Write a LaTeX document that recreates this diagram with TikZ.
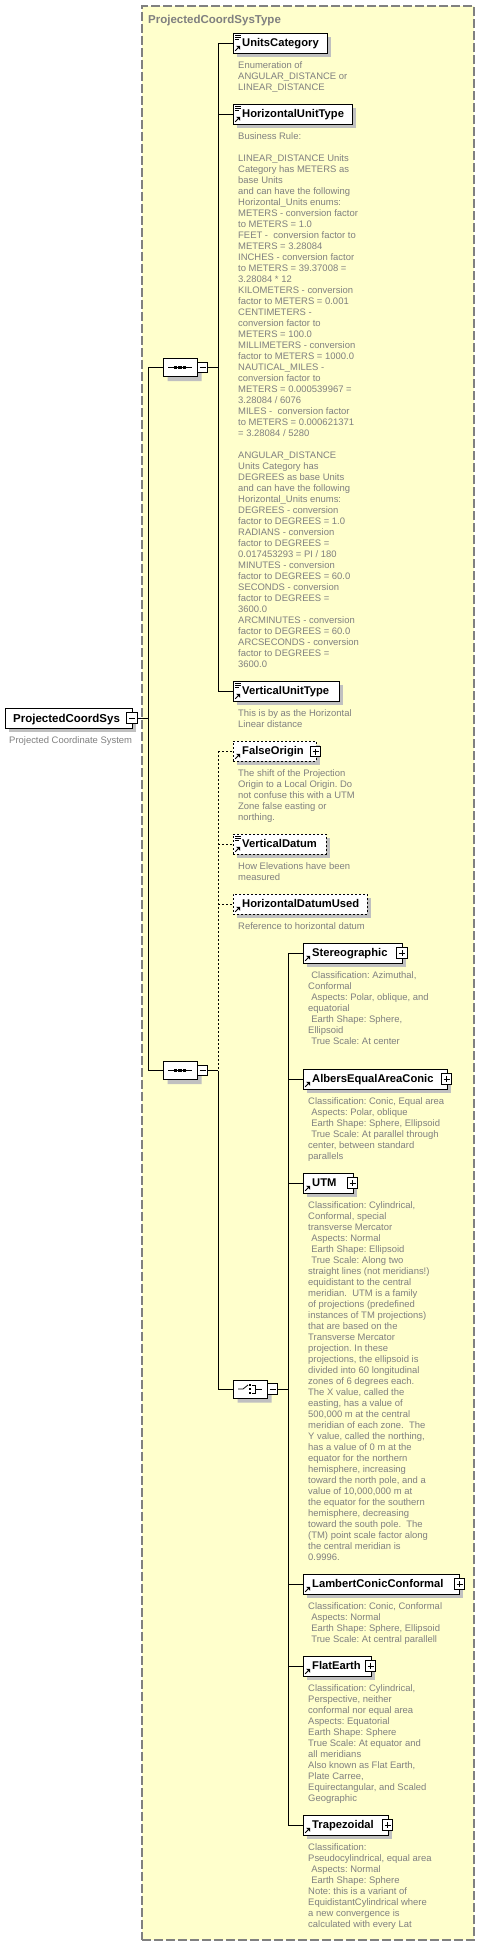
\documentclass[tikz,border=0pt]{standalone}
\usepackage{fontspec}
\setmainfont{Liberation Sans}
\usetikzlibrary{calc,shapes.misc,shadows}
\definecolor{bgyellow}{RGB}{255,255,204}
\definecolor{txtgray}{RGB}{128,128,128}
\definecolor{shgray}{RGB}{192,192,192}
\definecolor{bordergray}{RGB}{128,128,128}
\newcommand\ind{\hspace*{3.2pt}}
\newcommand\firststrut{\rule{0pt}{9pt}}
\frenchspacing
\tikzset{
  shad/.style={drop shadow={shadow xshift=4pt, shadow yshift=-4pt, fill=shgray, opacity=1, draw=none}},
  elbox/.style={rectangle, draw=black, fill=white, line width=1pt, inner sep=0pt, outer sep=0pt, minimum height=20pt, shad},
  optbox/.style={dash pattern=on 2pt off 2pt},
  eltitle/.style={inner sep=0pt, font=\fontsize{11.2}{13}\selectfont\bfseries, text=black},
  desc/.style={inner sep=0pt, align=left, font=\fontsize{9.45}{11}\selectfont, text=txtgray},
  pmbox/.style={rectangle, draw=black, fill=white, line width=0.8pt, inner sep=0pt, outer sep=0pt, minimum size=10.5pt},
  comp/.style={chamfered rectangle, chamfered rectangle xsep=3pt, chamfered rectangle ysep=3pt, draw=black, fill=white, line width=1pt, inner sep=0pt, outer sep=0pt, minimum width=34pt, minimum height=18pt, drop shadow={shadow xshift=4.5pt, shadow yshift=-4.5pt, fill=shgray, opacity=1, draw=none}},
  conn/.style={line width=1pt, black},
  optconn/.style={conn, dash pattern=on 2pt off 2pt},
  typebox/.style={rectangle, draw=bordergray, fill=bgyellow, line width=1.2pt, dash pattern=on 9pt off 3pt, inner sep=0pt, outer sep=0pt},
  icon/.style={line width=0.8pt, black}
}
% element: name, x, y top, width, extra style, title
\newcommand\elem[6]{%
  \node[elbox,#5,minimum width=#4pt,anchor=north west] (#1) at (#2,#3) {};
  \node[eltitle,anchor=base west] (#1-t) at ($(#1.west)+(9,3.8)$) {#6};
  \draw[icon] ($(#1.south west)+(2.2,-2.2)$) -- ($(#1.south west)+(5.5,-5.5)$);
  \fill ($(#1.south west)+(3.2,-7.2)$) -- ($(#1.south west)+(7.2,-7.2)$) -- ($(#1.south west)+(7.2,-3.2)$) -- cycle;
}
\newcommand\typeicon[1]{%
  \draw[icon,line width=0.7pt] ($(#1.north west)+(2,2.5)$) -- ++(6,0);
  \draw[icon,line width=0.7pt] ($(#1.north west)+(2,4.6)$) -- ++(6,0);
  \draw[icon,line width=0.7pt] ($(#1.north west)+(2,6.7)$) -- ++(4,0);
}
\newcommand\plusbox[3]{% name, x, y
  \node[pmbox] (#1) at (#2,#3) {};
  \draw[icon] ($(#1.center)+(-3,0)$) -- ($(#1.center)+(3,0)$);
  \draw[icon] ($(#1.center)+(0,-3)$) -- ($(#1.center)+(0,3)$);
}
\newcommand\minusbox[3]{%
  \node[pmbox] (#1) at (#2,#3) {};
  \draw[icon] ($(#1.center)+(-3,0)$) -- ($(#1.center)+(3,0)$);
}
\newcommand\desc[2]{% name, text
  \node[desc,anchor=north west] (#1-d) at ($(#1.south west)+(5,6)$) {\firststrut#2};
}
\begin{document}
\begin{tikzpicture}[x=1pt,y=-1pt]
\useasboundingbox (0,0) rectangle (480,1946);
\fill[white] (0,0) rectangle (480,1946);

% type box
\node[typebox, minimum width=332pt, minimum height=1934pt, anchor=north west] (type) at (142,6) {};
\node[inner sep=0pt, anchor=base west, font=\fontsize{11.5}{13}\selectfont\bfseries, text=txtgray] (typetitle) at (148,23.5) {ProjectedCoordSysType};

% bus coordinates
\coordinate (bus0) at (148,0);
\coordinate (bus1) at (218,0);
\coordinate (bus2) at (288,0);

% root element
\node[elbox,minimum width=127pt,anchor=north west] (pcs) at (5,708) {};
\node[eltitle,anchor=base west,font=\fontsize{11.5}{13}\selectfont\bfseries] (pcs-t) at ($(pcs.west)+(8,4)$) {ProjectedCoordSys};
\minusbox{pcs-m}{132}{718}
\node[desc,anchor=base west] (pcs-d) at (9,743.5) {Projected Coordinate System};

% compositors
\node[comp] (seq1) at (180,367.5) {};
\minusbox{seq1-m}{202.5}{367.5}
\draw[icon] ($(seq1.center)+(-12,0)$) -- ($(seq1.center)+(12,0)$);
\foreach \dx in {-4.5,0,4.5} \fill ($(seq1.center)+(\dx,0)+(-1.6,-1.6)$) rectangle ++(3.2,3.2);

\node[comp] (seq2) at (180,1070.5) {};
\minusbox{seq2-m}{202.5}{1070.5}
\draw[icon] ($(seq2.center)+(-12,0)$) -- ($(seq2.center)+(12,0)$);
\foreach \dx in {-4.5,0,4.5} \fill ($(seq2.center)+(\dx,0)+(-1.6,-1.6)$) rectangle ++(3.2,3.2);

\node[comp] (choice) at (250,1389) {};
\minusbox{choice-m}{272.5}{1389}
\draw[icon] ($(choice.center)+(-12,0)$) -- ($(choice.center)+(-7,0)$) -- ($(choice.center)+(-2,-4)$);
\foreach \dy in {-4,0,4} \fill ($(choice.center)+(0,\dy)+(-1.3,-1.3)$) rectangle ++(2.6,2.6);
\draw[icon] ($(choice.center)+(2,-4)$) -- ($(choice.center)+(5,-4)$) -- ($(choice.center)+(5,4)$) -- ($(choice.center)+(2,4)$);
\draw[icon] ($(choice.center)+(5,0)$) -- ($(choice.center)+(12,0)$);

% sequence 1 children
\elem{uc}{233}{33}{94}{}{UnitsCategory}
\typeicon{uc}
\desc{uc}{Enumeration of\\ANGULAR\_DISTANCE or\\LINEAR\_DISTANCE}

\elem{hut}{233}{104}{119}{}{HorizontalUnitType}
\typeicon{hut}
\desc{hut}{Business Rule:\\[11pt]LINEAR\_DISTANCE Units\\Category has METERS as\\base Units\\and can have the following\\Horizontal\_Units enums:\\METERS - conversion factor\\to METERS = 1.0\\FEET - \ conversion factor to\\METERS = 3.28084\\INCHES - conversion factor\\to METERS = 39.37008 =\\3.28084 * 12\\KILOMETERS - conversion\\factor to METERS = 0.001\\CENTIMETERS -\\conversion factor to\\METERS = 100.0\\MILLIMETERS - conversion\\factor to METERS = 1000.0\\NAUTICAL\_MILES -\\conversion factor to\\METERS = 0.000539967 =\\3.28084 / 6076\\MILES - \ conversion factor\\to METERS = 0.000621371\\= 3.28084 / 5280\\[11pt]ANGULAR\_DISTANCE\\Units Category has\\DEGREES as base Units\\and can have the following\\Horizontal\_Units enums:\\DEGREES - conversion\\factor to DEGREES = 1.0\\RADIANS - conversion\\factor to DEGREES =\\0.017453293 = PI / 180\\MINUTES - conversion\\factor to DEGREES = 60.0\\SECONDS - conversion\\factor to DEGREES =\\3600.0\\ARCMINUTES - conversion\\factor to DEGREES = 60.0\\ARCSECONDS - conversion\\factor to DEGREES =\\3600.0}

\elem{vut}{233}{681}{106}{}{VerticalUnitType}
\typeicon{vut}
\desc{vut}{This is by as the Horizontal\\Linear distance}

% sequence 2 children
\elem{fo}{233}{741}{83}{optbox}{FalseOrigin}
\plusbox{fo-p}{315.5}{751.5}
\desc{fo}{The shift of the Projection\\Origin to a Local Origin. Do\\not confuse this with a UTM\\Zone false easting or\\northing.}

\elem{vd}{233}{834}{93}{optbox}{VerticalDatum}
\typeicon{vd}
\desc{vd}{How Elevations have been\\measured}

\elem{hdu}{233}{894}{134}{optbox}{HorizontalDatumUsed}
\desc{hdu}{Reference to horizontal datum}

% choice children
\elem{ster}{303}{943}{99}{}{Stereographic}
\plusbox{ster-p}{402}{953}
\desc{ster}{\ind Classification: Azimuthal,\\Conformal\\\ind Aspects: Polar, oblique, and\\equatorial\\\ind Earth Shape: Sphere,\\Ellipsoid\\\ind True Scale: At center}

\elem{alb}{303}{1069}{144}{}{AlbersEqualAreaConic}
\plusbox{alb-p}{446.5}{1079}
\desc{alb}{Classification: Conic, Equal area\\\ind Aspects: Polar, oblique\\\ind Earth Shape: Sphere, Ellipsoid\\\ind True Scale: At parallel through\\center, between standard\\parallels}

\elem{utm}{303}{1173}{50}{}{UTM}
\plusbox{utm-p}{352.5}{1183}
\desc{utm}{Classification: Cylindrical,\\Conformal, special\\transverse Mercator\\\ind Aspects: Normal\\\ind Earth Shape: Ellipsoid\\\ind True Scale: Along two\\straight lines (not meridians!)\\equidistant to the central\\meridian.\ \ UTM is a family\\of projections (predefined\\instances of TM projections)\\that are based on the\\Transverse Mercator\\projection. In these\\projections, the ellipsoid is\\divided into 60 longitudinal\\zones of 6 degrees each.\\The X value, called the\\easting, has a value of\\500,000 m at the central\\meridian of each zone.\ \ The\\Y value, called the northing,\\has a value of 0 m at the\\equator for the northern\\hemisphere, increasing\\toward the north pole, and a\\value of 10,000,000 m at\\the equator for the southern\\hemisphere, decreasing\\toward the south pole.\ \ The\\(TM) point scale factor along\\the central meridian is\\0.9996.}

\elem{lcc}{303}{1574}{156}{}{LambertConicConformal}
\plusbox{lcc-p}{459.5}{1584}
\desc{lcc}{Classification: Conic, Conformal\\\ind Aspects: Normal\\\ind Earth Shape: Sphere, Ellipsoid\\\ind True Scale: At central parallell}

\elem{flat}{303}{1656}{68}{}{FlatEarth}
\plusbox{flat-p}{370.5}{1666}
\desc{flat}{Classification: Cylindrical,\\Perspective, neither\\conformal nor equal area\\Aspects: Equatorial\\Earth Shape: Sphere\\True Scale: At equator and\\all meridians\\Also known as Flat Earth,\\Plate Carree,\\Equirectangular, and Scaled\\Geographic}

\elem{trap}{303}{1815}{85}{}{Trapezoidal}
\plusbox{trap-p}{387.5}{1825}
\desc{trap}{Classification:\\Pseudocylindrical, equal area\\\ind Aspects: Normal\\\ind Earth Shape: Sphere\\Note: this is a variant of\\EquidistantCylindrical where\\a new convergence is\\calculated with every Lat}

% connectors: root
\draw[conn] (pcs-m.east) -- (pcs-m.east -| bus0);
\draw[conn] (seq1.west -| bus0) -- (seq2.west -| bus0);
\draw[conn] (seq1.west -| bus0) -- (seq1.west);
\draw[conn] (seq2.west -| bus0) -- (seq2.west);
% sequence 1
\draw[conn] (seq1-m.east) -- (seq1-m.east -| bus1);
\draw[conn] (uc.west -| bus1) -- (vut.west -| bus1);
\draw[conn] (uc.west -| bus1) -- (uc.west);
\draw[conn] (hut.west -| bus1) -- (hut.west);
\draw[conn] (vut.west -| bus1) -- (vut.west);
% sequence 2
\draw[conn] (seq2-m.east) -- (seq2-m.east -| bus1);
\draw[optconn] (fo.west -| bus1) -- (seq2-m.east -| bus1);
\draw[optconn] (fo.west -| bus1) -- (fo.west);
\draw[optconn] (vd.west -| bus1) -- (vd.west);
\draw[optconn] (hdu.west -| bus1) -- (hdu.west);
\draw[conn] (seq2-m.east -| bus1) -- (choice.west -| bus1) -- (choice.west);
% choice
\draw[conn] (choice-m.east) -- (choice-m.east -| bus2);
\draw[conn] (ster.west -| bus2) -- (trap.west -| bus2);
\foreach \n in {ster,alb,utm,lcc,flat,trap} \draw[conn] (\n.west -| bus2) -- (\n.west);
\end{tikzpicture}
\end{document}
